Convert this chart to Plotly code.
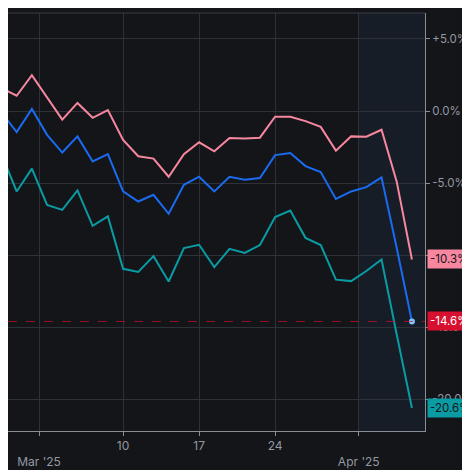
import plotly.graph_objects as go

day_index = list(range(28))
pink = [1.6, 1.06, 2.48, 0.95, -0.6, 0.56, -0.47, 0.07, -2.0, -3.14, -3.3, -4.56, -2.99, -2.17, -2.8, -1.88,
        -1.9, -1.85, -0.4, -0.4, -0.7, -1.1, -2.75, -1.76, -1.78, -1.3, -4.9, -10.3]
blue = [-0.1, -1.46, 0.14, -1.65, -2.88, -1.76, -3.5, -2.99, -5.58, -6.28, -5.81, -7.13, -5.12, -4.56, -5.58, -4.56,
        -4.77, -4.65, -3.06, -2.92, -3.82, -4.24, -6.1, -5.58, -5.28, -4.6, -9.5, -14.6]
teal = [-3.0, -5.58, -4.0, -6.51, -6.86, -5.51, -7.97, -7.31, -10.95, -11.16, -10.07, -11.83, -9.51, -9.28, -10.83, -9.56,
        -9.84, -9.3, -7.36, -6.9, -8.8, -9.3, -11.7, -11.8, -11.1, -10.3, -15.5, -20.6]
x_tick_pos = [2.47, 8.0, 13.0, 18.0, 23.5]
x_tick_text = ["<br>Mar '25", "10", "17", "24", "<br>Apr '25"]
y_tick_vals = [5, 0, -5, -10, -15, -20]
y_tick_text = ["+5.0%", "0.0%", "-5.0%", "-10.0%", "-15.0%", "-20.0%"]

PINK, BLUE, TEAL, RED = "#F7879F", "#1A6BF0", "#0A9BA3", "#D6102E"
BG = "#131519"

fig = go.Figure()
fig.add_vrect(x0=x_tick_pos[-1], x1=27.9, fillcolor="#161D27", line_width=0, layer="below")
for s, c in [(pink, PINK), (blue, BLUE), (teal, TEAL)]:
    fig.add_trace(go.Scatter(x=day_index, y=s, mode="lines", line=dict(color=c, width=2), hoverinfo="skip"))
fig.add_trace(go.Scatter(x=[day_index[-1]], y=[blue[-1]], mode="markers",
                         marker=dict(color="#7CC4FF", size=6), hoverinfo="skip"))
fig.add_hline(y=blue[-1], line=dict(color=RED, width=1, dash="dash"), opacity=0.7)
fig.add_shape(type="line", xref="paper", yref="paper", x0=0, x1=1, y0=1, y1=1,
              line=dict(color="#3a3d45", width=1))

for s, bg, fg in [(pink, PINK, "#131519"), (blue, RED, "white"), (teal, TEAL, "#131519")]:
    fig.add_annotation(xref="paper", x=1.005, xanchor="left", y=s[-1], yref="y",
                       text=f"{s[-1]:.1f}%", showarrow=False, bgcolor=bg,
                       font=dict(color=fg, size=11.5, family="Inter"), borderpad=2)

fig.update_layout(
    width=470, height=470, paper_bgcolor=BG, plot_bgcolor=BG, showlegend=False,
    margin=dict(l=0, r=53, t=5, b=47, autoexpand=False),
    font=dict(family="Inter", color="#9598a1", size=12),
    xaxis=dict(range=[0.43, 27.86], tickvals=x_tick_pos, ticktext=x_tick_text, showgrid=True, automargin=False,
               gridcolor="#2e3138", zeroline=False, showline=True, linecolor="#8a8d95",
               ticks="outside", ticklen=4, tickcolor="#8a8d95", tickfont=dict(size=12, color="#9598a1")),
    yaxis=dict(range=[-22.2, 6.8], side="right", tickvals=y_tick_vals, ticktext=y_tick_text, automargin=False,
               showgrid=True, gridcolor="#2e3138", zeroline=False, showline=True, linecolor="#8a8d95",
               ticks="outside", ticklen=4, tickcolor="#8a8d95", tickfont=dict(size=11.5, color="#9598a1")),
)
fig.write_html("out.html")
